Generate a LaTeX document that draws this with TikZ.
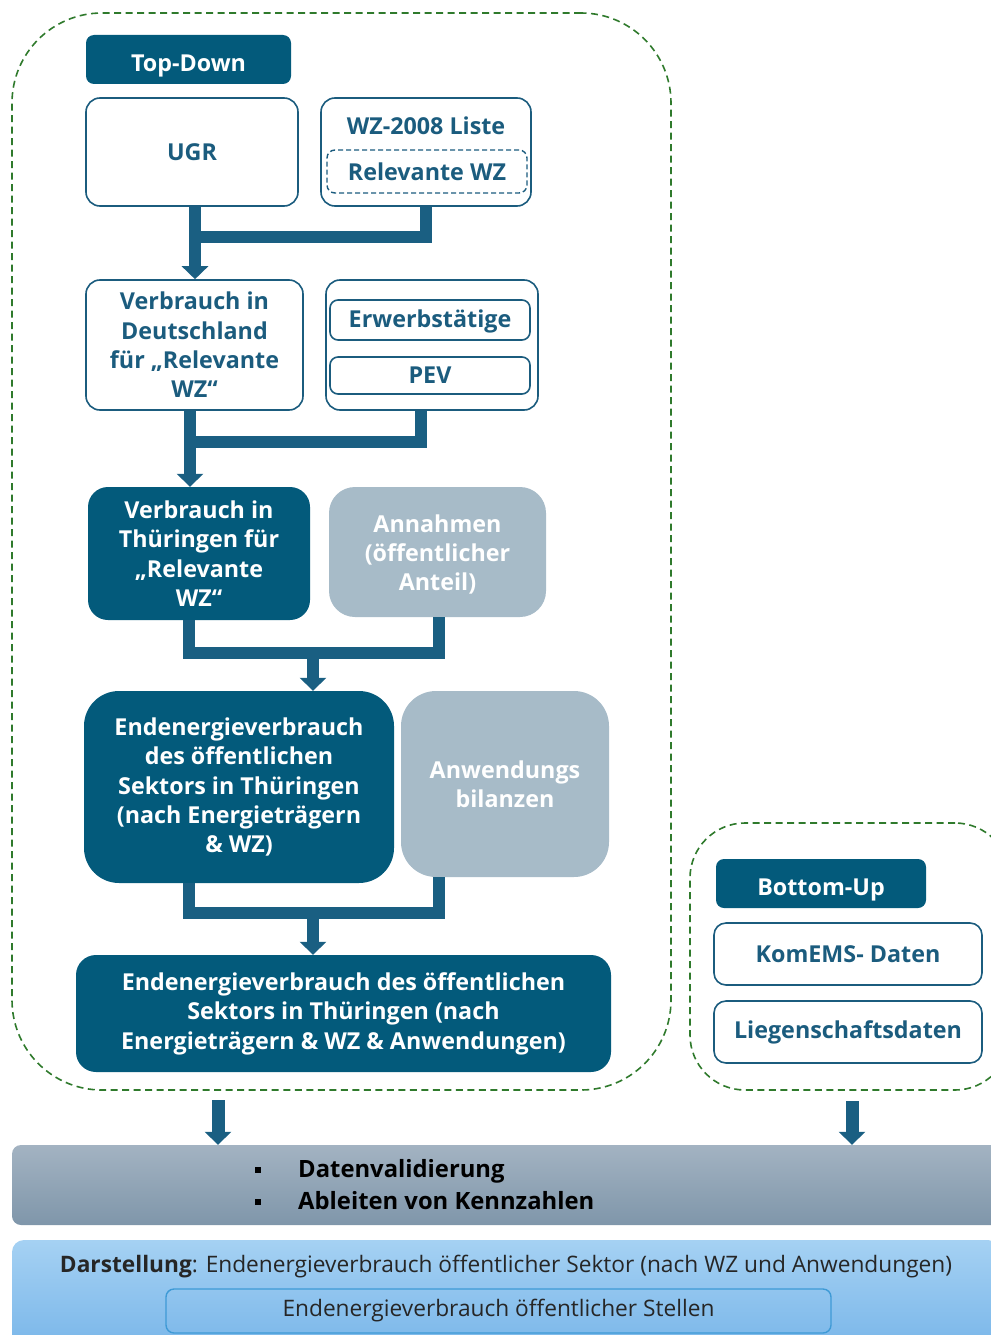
\documentclass[tikz,border=0pt]{standalone}
\usepackage{fontspec}
\setmainfont{Open Sans}
\usetikzlibrary{arrows.meta}
\definecolor{dk}{HTML}{035A7B}
\definecolor{tx}{HTML}{1B5C7E}
\definecolor{ln}{HTML}{1A5F82}
\definecolor{lt}{HTML}{A7BBC8}
\definecolor{gr}{HTML}{2F7A2C}
\definecolor{bandtop}{HTML}{A3B3C2}
\definecolor{bandbot}{HTML}{7F96AA}
\definecolor{bluetop}{HTML}{A5D1F3}
\definecolor{bluebot}{HTML}{79B6E9}
\definecolor{blueline}{HTML}{3E9AD6}
\begin{document}
\begin{tikzpicture}[x=1pt,y=-1pt,
  txt/.style={font=\bfseries\fontsize{23.3}{29.4}\selectfont, align=center, inner sep=0pt},
  wbox/.style={txt, draw=tx, line width=1.6pt, fill=white, text=tx, rounded corners=14pt},
  dbox/.style={txt, fill=dk, text=white, rounded corners=20pt},
  lbox/.style={txt, fill=lt, text=white, rounded corners=26pt},
  head/.style={txt, fill=dk, text=white, rounded corners=8pt},
  group/.style={draw=gr, line width=1.6pt, dash pattern=on 7pt off 4.5pt, inner sep=0pt},
  bar/.style={draw=ln, line width=12pt, line join=miter},
  tip/.style={-{Triangle[width=26pt,length=13pt]}},
  band/.style={inner sep=0pt, rounded corners=9pt},
  reg/.style={inner sep=0pt, text=black!85, font=\fontsize{22.7}{26}\selectfont}
]
\useasboundingbox (0,0) rectangle (990,1335);

% groups
\node[group, rounded corners=90pt, minimum width=659pt, minimum height=1077pt] (tdg) at (341.5,551.5) {};
\node[group, rounded corners=55pt, minimum width=320pt, minimum height=267pt] (bug) at (850,956.5) {};

% Top-Down column
\node[head, minimum width=205pt, minimum height=49pt] (td) at (188.5,59.5) {};
\node[txt, text=white] (tdt) at (188.5,66) {Top-Down};
\node[wbox, minimum width=212pt, minimum height=108pt] (ugr) at (192,152) {UGR};
\node[wbox, minimum width=210pt, minimum height=108pt] (wz) at (426,152) {};
\node[txt, text=tx] (wzt) at (426,126) {WZ-2008 Liste};
\node[wbox, dashed, dash pattern=on 5pt off 3pt, line width=1.4pt, rounded corners=8pt, minimum width=200pt, minimum height=43pt] (rwz) at (427,171.5) {Relevante WZ};

\node[wbox, minimum width=217pt, minimum height=130pt] (vd) at (194.5,345) {Verbrauch in\\Deutschland\\für „Relevante\\WZ“};
\node[wbox, minimum width=212pt, minimum height=130pt] (grp) at (432,345) {};
\node[wbox, rounded corners=8pt, minimum width=200pt, minimum height=40pt] (erw) at (430,320) {};
\node[txt, text=tx] (erwt) at (430,321.5) {Erwerbstätige};
\node[wbox, rounded corners=8pt, minimum width=200pt, minimum height=37pt] (pev) at (430,375.5) {PEV};

\node[dbox, minimum width=222pt, minimum height=133pt] (vt) at (199,553.5) {Verbrauch in\\Thüringen für\\„Relevante\\WZ“};
\node[lbox, minimum width=217pt, minimum height=130pt] (ann) at (437.5,552) {};
\node[txt, text=white] (annt) at (437.5,554.5) {Annahmen\\(öffentlicher\\Anteil)};

\node[dbox, rounded corners=35pt, minimum width=310pt, minimum height=192pt] (ee) at (239,787) {Endenergieverbrauch\\des öffentlichen\\Sektors in Thüringen\\(nach Energieträgern\\\& WZ)};
\node[lbox, rounded corners=35pt, minimum width=208pt, minimum height=186pt] (anw) at (505,784) {Anwendungs\\bilanzen};

\node[dbox, minimum width=535pt, minimum height=117pt] (fin) at (343.5,1013.5) {Endenergieverbrauch des öffentlichen\\Sektors in Thüringen (nach\\Energieträgern \& WZ \& Anwendungen)};

% Bottom-Up column
\node[head, minimum width=210pt, minimum height=49pt] (bu) at (821,883.5) {};
\node[txt, text=white] (but) at (821,890) {Bottom-Up};
\node[wbox, rounded corners=12pt, minimum width=268pt, minimum height=62pt] (kom) at (848,954) {KomEMS- Daten};
\node[wbox, rounded corners=12pt, minimum width=268pt, minimum height=62pt] (lieg) at (848,1032) {Liegenschaftsdaten};

% bands
\node[band, top color=bandtop, bottom color=bandbot, minimum width=988pt, minimum height=80pt] (val) at (506,1185) {};
\node[txt, anchor=west, text=black, font=\bfseries\fontsize{23.8}{29}\selectfont] (v1) at (255,1171.5) {\rule[5pt]{6pt}{6pt}\hspace{37pt}Datenvalidierung};
\node[txt, anchor=west, text=black, font=\bfseries\fontsize{23.8}{29}\selectfont] (v2) at (255,1201) {\rule[5pt]{6pt}{6pt}\hspace{37pt}Ableiten von Kennzahlen};

\node[band, rounded corners=12pt, top color=bluetop, bottom color=bluebot, minimum width=988pt, minimum height=110pt] (dar) at (506,1295) {};
\node[reg] (dt) at (506,1267) {\textbf{Darstellung}: Endenergieverbrauch öffentlicher Sektor (nach WZ und Anwendungen)};
\node[reg, draw=blueline, line width=1.4pt, rounded corners=8pt, minimum width=665pt, minimum height=44pt] (st) at (498.5,1311) {Endenergieverbrauch öffentlicher Stellen};

% connectors
\coordinate (j1) at (195,236.5);
\draw[bar] (wz.south -| 426,0) -- (426,236.5) -- (j1);
\draw[bar, tip] (ugr.south -| j1) -- (vd.north -| j1);

\coordinate (j2) at (190,442);
\draw[bar] (grp.south -| 421,0) -- (421,442) -- (j2);
\draw[bar, tip] (vd.south -| j2) -- (vt.north -| j2);

\coordinate (m3) at (313,652.5);
\draw[bar] (vt.south -| 189,0) -- (189,652.5) -- (438.5,652.5) -- (ann.south -| 438.5,0);
\draw[bar, tip] (m3) -- (ee.north -| m3);

\coordinate (m4) at (313,912.5);
\draw[bar] (ee.south -| 189,0) -- (189,912.5) -- (438.5,912.5) -- (anw.south -| 438.5,0);
\draw[bar, tip] (m4) -- (fin.north -| m4);

\coordinate (a1) at (218,1100);
\draw[bar, line width=13pt, tip] (a1) -- (val.north -| a1);
\coordinate (a2) at (852,1101);
\draw[bar, line width=13pt, tip] (a2) -- (val.north -| a2);
\end{tikzpicture}
\end{document}
